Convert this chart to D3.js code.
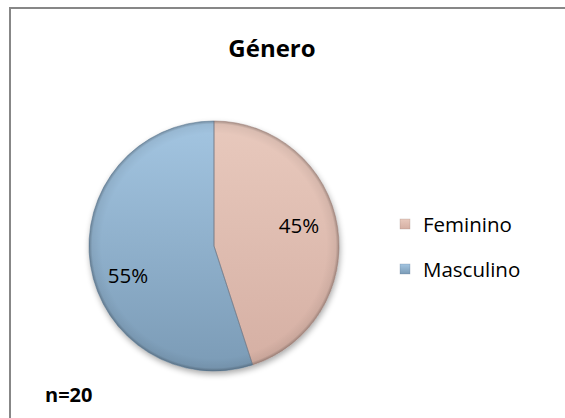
<!DOCTYPE html>
<html>
<head>
<meta charset="utf-8">
<script src="https://cdn.jsdelivr.net/npm/d3@7"></script>
<style>
  html, body { margin: 0; padding: 0; background: #fff; }
  svg { display: block; font-family: "Open Sans", Lato, sans-serif; }
</style>
</head>
<body>
<svg id="chart"></svg>
<script>
// chart data
const categories = ["Feminino", "Masculino"];
const values = [45, 55];
const sampleLabel = "n=20";
const title = "Género";

const width = 565, height = 418;
const cx = 214, cy = 246, radius = 125;

const palette = {
  Feminino: { top: "#e8c9bd", bottom: "#d5afa3", edge: "#9c8078" },
  Masculino: { top: "#a3c5e1", bottom: "#7b9bb6", edge: "#5a7690" }
};

const svg = d3.select("#chart")
  .attr("width", width)
  .attr("height", height);

const defs = svg.append("defs");

categories.forEach((c, i) => {
  // slice gradient, in the pie group's local coordinates
  const grad = defs.append("linearGradient")
    .attr("id", "grad" + i)
    .attr("gradientUnits", "userSpaceOnUse")
    .attr("x1", 0).attr("y1", -radius)
    .attr("x2", 0).attr("y2", radius);
  grad.append("stop").attr("offset", "0%").attr("stop-color", palette[c].top);
  grad.append("stop").attr("offset", "100%").attr("stop-color", palette[c].bottom);

  const lg = defs.append("linearGradient")
    .attr("id", "lgrad" + i)
    .attr("x1", 0).attr("y1", 0).attr("x2", 0).attr("y2", 1);
  lg.append("stop").attr("offset", "0%").attr("stop-color", palette[c].top);
  lg.append("stop").attr("offset", "100%").attr("stop-color", palette[c].bottom);
});

// bevel: darken towards the rim
const rim = defs.append("radialGradient")
  .attr("id", "rim")
  .attr("gradientUnits", "userSpaceOnUse")
  .attr("cx", 0).attr("cy", 0).attr("r", radius);
rim.append("stop").attr("offset", "0.9").attr("stop-color", "#000").attr("stop-opacity", 0);
rim.append("stop").attr("offset", "0.975").attr("stop-color", "#000").attr("stop-opacity", 0.06);
rim.append("stop").attr("offset", "1").attr("stop-color", "#000").attr("stop-opacity", 0.28);

const shadow = defs.append("filter").attr("id", "shadow")
  .attr("x", "-20%").attr("y", "-20%").attr("width", "140%").attr("height", "140%");
shadow.append("feGaussianBlur").attr("in", "SourceAlpha").attr("stdDeviation", 3);
shadow.append("feOffset").attr("dx", 1).attr("dy", 3).attr("result", "off");
shadow.append("feComponentTransfer").append("feFuncA").attr("type", "linear").attr("slope", 0.35);
const merge = shadow.append("feMerge");
merge.append("feMergeNode");
merge.append("feMergeNode").attr("in", "SourceGraphic");

// frame
svg.append("rect")
  .attr("x", 10).attr("y", 8)
  .attr("width", width + 20).attr("height", height + 20)
  .attr("fill", "#fff")
  .attr("stroke", "#878787")
  .attr("stroke-width", 2);

svg.append("text")
  .attr("x", 272).attr("y", 57)
  .attr("text-anchor", "middle")
  .attr("font-size", 24).attr("font-weight", "bold")
  .attr("fill", "#000")
  .text(title);

const pie = d3.pie().sort(null).value(d => d.value);
const arcs = pie(categories.map((c, i) => ({ name: c, value: values[i] })));
const arc = d3.arc().innerRadius(0).outerRadius(radius);

const g = svg.append("g").attr("transform", `translate(${cx},${cy})`);

g.append("g").attr("filter", "url(#shadow)")
  .selectAll("path")
  .data(arcs)
  .enter()
  .append("path")
  .attr("d", arc)
  .attr("fill", (d, i) => `url(#grad${i})`);

g.selectAll("path.rim")
  .data(arcs)
  .enter()
  .append("path")
  .attr("class", "rim")
  .attr("d", arc)
  .attr("fill", "url(#rim)");

g.selectAll("path.edge")
  .data(arcs)
  .enter()
  .append("path")
  .attr("class", "edge")
  .attr("d", arc)
  .attr("fill", "none")
  .attr("stroke", d => palette[d.data.name].edge)
  .attr("stroke-opacity", 0.55)
  .attr("stroke-width", 1);

const total = d3.sum(values);
g.selectAll("text.pct")
  .data(arcs)
  .enter()
  .append("text")
  .attr("class", "pct")
  .attr("x", (d, i) => i === 0 ? 85 : -86)
  .attr("y", (d, i) => i === 0 ? -13 : 37)
  .attr("text-anchor", "middle")
  .attr("font-size", 20.5)
  .attr("fill", "#000")
  .text(d => Math.round(d.data.value / total * 100) + "%");

// legend
const legend = svg.append("g").attr("transform", "translate(400,219)");
const item = legend.selectAll("g")
  .data(categories)
  .enter()
  .append("g")
  .attr("transform", (d, i) => `translate(0,${i * 45})`);
item.append("rect")
  .attr("width", 10).attr("height", 10)
  .attr("fill", (d, i) => `url(#lgrad${i})`)
  .attr("stroke", d => palette[d].edge)
  .attr("stroke-opacity", 0.5)
  .attr("stroke-width", 0.5);
item.append("text")
  .attr("x", 23).attr("y", 13)
  .attr("font-size", 20.5)
  .attr("fill", "#000")
  .text(d => d);

svg.append("text")
  .attr("x", 45).attr("y", 402)
  .attr("font-size", 20).attr("font-weight", "bold")
  .attr("fill", "#000")
  .text(sampleLabel);
</script>
</body>
</html>
